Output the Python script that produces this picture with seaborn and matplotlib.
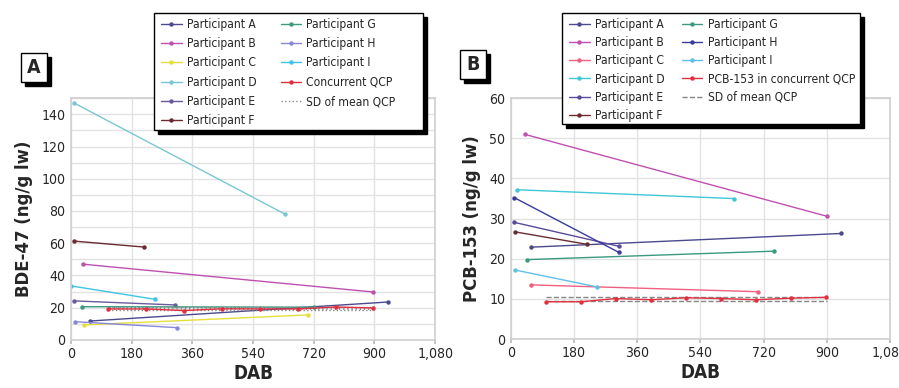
import numpy as np
import pandas as pd
import matplotlib
matplotlib.use("Agg")
import matplotlib.pyplot as plt
import seaborn as sns
from matplotlib.patches import Rectangle
from matplotlib.ticker import MultipleLocator
from matplotlib import font_manager

# ---------------- data ----------------
participants = ["Participant A", "Participant B", "Participant C", "Participant D",
                "Participant E", "Participant F", "Participant G", "Participant H",
                "Participant I"]

# Panel A: BDE-47
bde_days = [[56, 940], [35, 897], [39, 704], [9, 635], [9, 307],
            [9, 217], [32, 720], [12, 314], [0, 249]]
bde_vals = [[11.7, 23.5], [47.0, 29.7], [9.3, 15.5], [147.0, 78.0], [24.2, 21.7],
            [61.3, 57.6], [20.6, 20.3], [11.3, 7.6], [33.5, 25.2]]
qcp_days_a = [110, 223, 335, 448, 561, 673, 786, 896]
qcp_bde = [19.2, 19.2, 18.2, 19.3, 19.2, 19.2, 20.4, 19.8]
sd_days_a = [110, 900]
sd_bde_low = [18.4, 18.4]
sd_bde_high = [20.4, 20.4]

# Panel B: PCB-153
pcb_days = [[59, 940], [40, 900], [59, 705], [17, 636], [9, 309],
            [13, 218], [47, 749], [11, 308], [13, 246]]
pcb_vals = [[22.9, 26.3], [51.0, 30.6], [13.5, 11.8], [37.2, 35.0], [29.1, 23.1],
            [26.7, 23.6], [19.8, 21.9], [35.2, 21.6], [17.2, 13.0]]
qcp_days_b = [100, 200, 299, 401, 500, 600, 699, 799, 899]
qcp_pcb = [9.3, 9.3, 10.1, 9.8, 10.3, 10.1, 9.8, 10.2, 10.4]
sd_days_b = [100, 900]
sd_pcb_low = [9.4, 9.4]
sd_pcb_high = [10.4, 10.4]

x_ticks = [0, 180, 360, 540, 720, 900, 1080]

colors_a = ["#4a4a8c", "#c050b0", "#e6de3a", "#78c8d2", "#6a5a9a",
            "#6a2a30", "#3a9a80", "#8888d8", "#40c4e4"]
colors_b = ["#4a4a8c", "#c050b0", "#f06080", "#40c8d8", "#5a4a9a",
            "#6a2a30", "#3a9a80", "#3a3aa0", "#60c0e8"]
qcp_color = "#e03040"
sd_color = "#888888"

# ---------------- style ----------------
sns.set_theme(style="whitegrid")
names = {f.name for f in font_manager.fontManager.ttflist}
if "Liberation Sans Narrow" in names:
    plt.rcParams["font.family"] = ["Liberation Sans Narrow", "DejaVu Sans"]
    scale = 1.0
else:
    plt.rcParams["font.family"] = ["DejaVu Sans"]
    plt.rcParams["font.stretch"] = "condensed"
    scale = 0.88
plt.rcParams["hatch.color"] = "#8a8a8a"
plt.rcParams["hatch.linewidth"] = 0.8

W, H = 899, 388
fig = plt.figure(figsize=(W / 100, H / 100), dpi=100)
axA = fig.add_axes([0.079, 0.124, 0.405, 0.623])
axB = fig.add_axes([0.568, 0.126, 0.422, 0.621])


def draw_panel(ax, days, vals, colors, qd, qv, qlabel, sdd, sdl, sdh, sdstyle, hatch):
    for lab, d, v, c in zip(participants, days, vals, colors):
        sns.lineplot(x=d, y=v, ax=ax, color=c, linewidth=1.0, marker="o",
                     markersize=3.2, markeredgewidth=0, label=lab, sort=False)
    sns.lineplot(x=qd, y=qv, ax=ax, color=qcp_color, linewidth=1.0, marker="o",
                 markersize=3.2, markeredgewidth=0, label=qlabel, sort=False, zorder=4)
    sns.lineplot(x=sdd, y=sdh, ax=ax, color=sd_color, linewidth=1.0,
                 linestyle=sdstyle, label="SD of mean QCP", sort=False)
    sns.lineplot(x=sdd, y=sdl, ax=ax, color=sd_color, linewidth=1.0,
                 linestyle=sdstyle, label="_nolegend_", sort=False)
    if hatch:
        ax.fill_between(sdd, sdl, sdh, facecolor="none", edgecolor="#8a8a8a",
                        hatch=hatch, linewidth=0)
    if ax.get_legend() is not None:
        ax.get_legend().remove()
    ax.set_xlim(0, 1080)
    ax.set_xticks(x_ticks)
    ax.set_xticklabels([f"{t:,}" for t in x_ticks])
    ax.set_xlabel("DAB", fontsize=15.5 * scale, fontweight="bold", labelpad=2)
    for s in ax.spines.values():
        s.set_color("#cfcfcf")
        s.set_linewidth(1.2)
    ax.grid(True, which="major", color="#e2e2e2", linewidth=1.0)
    ax.tick_params(axis="x", which="major", length=3, color="#bbbbbb",
                   direction="out", labelsize=11.5 * scale, pad=2, bottom=True)
    ax.tick_params(axis="y", which="major", length=0, labelsize=11.5 * scale, pad=4)
    ax.set_axisbelow(True)


draw_panel(axA, bde_days, bde_vals, colors_a, qcp_days_a, qcp_bde, "Concurrent QCP",
           sd_days_a, sd_bde_low, sd_bde_high, ":", "||||")
axA.set_ylim(0, 150)
axA.set_yticks(range(0, 150, 20))
axA.yaxis.set_minor_locator(MultipleLocator(10))
axA.grid(True, which="minor", axis="y", color="#e2e2e2", linewidth=1.0)
axA.tick_params(axis="y", which="minor", length=0)
axA.set_ylabel("BDE-47 (ng/g lw)", fontsize=15 * scale, fontweight="bold", labelpad=6)

draw_panel(axB, pcb_days, pcb_vals, colors_b, qcp_days_b, qcp_pcb,
           "PCB-153 in concurrent QCP", sd_days_b, sd_pcb_low, sd_pcb_high, "--", None)
axB.set_ylim(0, 60)
axB.set_yticks(range(0, 61, 10))
axB.set_ylabel("PCB-153 (ng/g lw)", fontsize=15 * scale, fontweight="bold", labelpad=6)


def shadow_box(x_px, y_px, w_px, h_px, off=4, z=5):
    """White box with black border and a solid drop shadow (pixel coords, top-left origin)."""
    x0, y0 = x_px / W, 1 - (y_px + h_px) / H
    w, h = w_px / W, h_px / H
    fig.patches.append(Rectangle((x0 + off / W, y0 - off / H), w, h,
                                 transform=fig.transFigure, facecolor="black",
                                 edgecolor="black", zorder=z))
    fig.patches.append(Rectangle((x0, y0), w, h, transform=fig.transFigure,
                                 facecolor="white", edgecolor="black",
                                 linewidth=1.0, zorder=z + 0.5))


# ---------------- legends ----------------
legend_boxes = [(axA, (154, 13, 269, 117), 0.53, 2.0),
                (axB, (562, 13, 298, 111), 0.44, 1.45)]
for ax, (bx, by, bw, bh), lsp, csp in legend_boxes:
    shadow_box(bx, by, bw, bh)
    h, l = ax.get_legend_handles_labels()
    leg = fig.legend(h, l, ncol=2, loc="upper left",
                     bbox_to_anchor=((bx + 3) / W, 1 - (by + 0.5) / H),
                     bbox_transform=fig.transFigure, borderaxespad=0,
                     frameon=False, fontsize=9.8 * scale, handlelength=1.7,
                     handletextpad=0.45, columnspacing=csp, labelspacing=lsp,
                     borderpad=0.35)
    leg.set_zorder(10)

# ---------------- panel letters ----------------
for bx, by, letter in [(21, 53, "A"), (460, 50, "B")]:
    shadow_box(bx, by, 26, 29, off=4, z=1)
    fig.text((bx + 13) / W, 1 - (by + 14.5) / H, letter, ha="center", va="center",
             fontsize=16 * scale, fontweight="bold", zorder=3)

fig.savefig("out.png", dpi=100)
